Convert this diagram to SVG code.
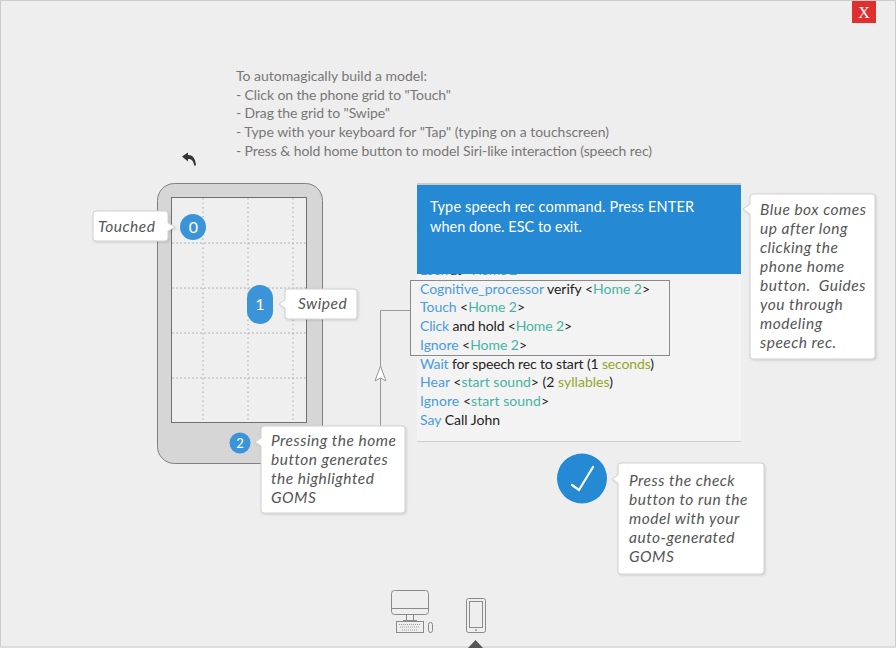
<svg xmlns="http://www.w3.org/2000/svg" width="896" height="648" viewBox="0 0 896 648">
<style>
text{font-family:Lato,"Open Sans",sans-serif}
.ins{font-size:14px;fill:#777}
.goms{font-size:14px;fill:#222}
.op{fill:#4a9bdc}.tl{fill:#45b3a3}.ol{fill:#93a62a}
.tip{fill:#fff;stroke:#d0d0d0;stroke-width:1;filter:url(#sh)}
.say{font-size:15.500px;font-style:italic;fill:#555;letter-spacing:.5px}
.dot{stroke:#aaa;stroke-width:1;stroke-dasharray:1.500 3;fill:none}
.dash{stroke:#b0b0b0;stroke-width:1;stroke-dasharray:2 2;fill:none}
.num{font-size:16px;fill:#fff;text-anchor:middle}
.ic{fill:none;stroke:#8a8a8a;stroke-width:1}
</style>
<defs><filter id="sh" x="-10%" y="-10%" width="120%" height="120%"><feDropShadow dx="1" dy="1" stdDeviation="1" flood-color="#000" flood-opacity=".15"/></filter></defs>
<rect x="0" y="0" width="896" height="648" fill="#eee"/>
<path d="M.5 648V.5H895.500V648" fill="none" stroke="#ccc"/>
<rect x="0" y="646" width="896" height="2" fill="#ddd"/>
<g id="close"><rect x="852" y="1" width="24" height="22" fill="#df3030"/><text x="864" y="18" font-size="16" fill="#fff" text-anchor="middle" style="font-family:'Liberation Serif',serif">X</text></g>
<g id="instructions">
<text class="ins" x="236" y="81" textLength="191">To automagically build a model:</text>
<text class="ins" x="236" y="100" textLength="215">- Click on the phone grid to "Touch"</text>
<text class="ins" x="236" y="118" textLength="154">- Drag the grid to "Swipe"</text>
<text class="ins" x="236" y="137" textLength="373">- Type with your keyboard for "Tap" (typing on a touchscreen)</text>
<text class="ins" x="236" y="156" textLength="416">- Press &amp; hold home button to model Siri-like interaction (speech rec)</text>
</g>
<g id="undo"><path d="M182 156.500L188 152.500V155C192.500 155 195.500 158 196 165.500H194.200C193.500 160.500 191.500 159 188 159V161.500Z" fill="#333"/></g>
<g id="phone">
<rect x="157.500" y="183.500" width="165" height="280" rx="17" fill="#d6d6d6" stroke="#808080"/>
<rect x="171.500" y="197.500" width="135" height="225" fill="#efefef" stroke="#707070"/>
<path class="dash" d="M172 243H306M172 288H306M172 333H306M172 378H306"/>
<path class="dot" d="M203 198V422M248 198V422M293 198V422"/>
</g>
<g id="goms">
<rect x="417" y="184" width="324" height="257" fill="#f3f3f3"/>
<path d="M417 441.500H741" stroke="#ccc"/>
<text class="goms" x="420" y="275" textLength="105"><tspan class="op">Look</tspan> at &lt;<tspan class="tl">Home 2</tspan>&gt;</text>
<text class="goms" x="420" y="369" textLength="234"><tspan class="op">Wait</tspan> for speech rec to start (1 <tspan class="ol">seconds</tspan>)</text>
<text class="goms" x="420" y="387" textLength="193"><tspan class="op">Hear</tspan> &lt;<tspan class="tl">start sound</tspan>&gt; (2 <tspan class="ol">syllables</tspan>)</text>
<text class="goms" x="420" y="406" textLength="129"><tspan class="op">Ignore</tspan> &lt;<tspan class="tl">start sound</tspan>&gt;</text>
<text class="goms" x="420" y="425" textLength="80"><tspan class="op">Say</tspan> Call John</text>
</g>
<g id="highlight">
<rect x="410.500" y="280.500" width="259" height="75" fill="#f3f3f3" stroke="#8a8a8a"/>
<text class="goms" x="420" y="294" textLength="230"><tspan class="op">Cognitive_processor</tspan> verify &lt;<tspan class="tl">Home 2</tspan>&gt;</text>
<text class="goms" x="420" y="312" textLength="105"><tspan class="op">Touch</tspan> &lt;<tspan class="tl">Home 2</tspan>&gt;</text>
<text class="goms" x="420" y="331" textLength="152"><tspan class="op">Click</tspan> and hold &lt;<tspan class="tl">Home 2</tspan>&gt;</text>
<text class="goms" x="420" y="350" textLength="107"><tspan class="op">Ignore</tspan> &lt;<tspan class="tl">Home 2</tspan>&gt;</text>
</g>
<g id="connectors">
<path d="M410 310.500H380.500V426" fill="none" stroke="#999"/>
<path d="M380.500 366L386 381L380.500 378L375 381Z" fill="#fff" stroke="#999"/>
</g>
<g id="blue-box">
<rect x="417" y="183" width="324" height="2" fill="#ccc"/>
<rect x="417" y="185" width="324" height="89" fill="#2589d4"/>
<text x="430" y="212" font-size="14.500" fill="#fff" textLength="264">Type speech rec command. Press ENTER</text>
<text x="430" y="232" font-size="14.500" fill="#fff" textLength="152">when done. ESC to exit.</text>
</g>
<g id="touch-0"><circle cx="193" cy="227" r="13" fill="#3c94d8"/><text class="num" x="193.500" y="232.500">0</text></g>
<g id="swipe-1"><rect x="247" y="285" width="26" height="39" rx="13" fill="#3c94d8"/><text class="num" x="260" y="309.500">1</text></g>
<g id="home-2"><circle cx="240" cy="443" r="10.500" fill="#3c94d8"/><text x="240" y="448" font-size="13" fill="#fff" text-anchor="middle">2</text></g>
<g id="tip-touched"><path class="tip" d="M96 211H165a3 3 0 0 1 3 3V223L175 227L168 231V238a3 3 0 0 1 -3 3H96a3 3 0 0 1 -3 -3V214a3 3 0 0 1 3 -3Z"/><text class="say" x="98" y="232">Touched</text></g>
<g id="tip-swiped"><path class="tip" d="M288 289H354a3 3 0 0 1 3 3V316a3 3 0 0 1 -3 3H288a3 3 0 0 1 -3 -3V308L279 304L285 300V292a3 3 0 0 1 3 -3Z"/><text class="say" x="298" y="309">Swiped</text></g>
<g id="tip-home"><path class="tip" d="M264 426H402a3 3 0 0 1 3 3V510a3 3 0 0 1 -3 3H264a3 3 0 0 1 -3 -3V446L255 442L261 438V429a3 3 0 0 1 3 -3Z"/>
<text class="say" x="271" y="446">Pressing the home</text><text class="say" x="271" y="465">button generates</text><text class="say" x="271" y="484">the highlighted</text><text class="say" x="271" y="503">GOMS</text></g>
<g id="tip-blue"><path class="tip" d="M753 194H872a3 3 0 0 1 3 3V356a3 3 0 0 1 -3 3H753a3 3 0 0 1 -3 -3V214L743 209L750 204V197a3 3 0 0 1 3 -3Z"/>
<text class="say" x="760" y="215">Blue box comes</text><text class="say" x="760" y="234">up after long</text><text class="say" x="760" y="253">clicking the</text><text class="say" x="760" y="272">phone home</text><text class="say" x="760" y="291" xml:space="preserve">button.  Guides</text><text class="say" x="760" y="310">you through</text><text class="say" x="760" y="329">modeling</text><text class="say" x="760" y="348">speech rec.</text></g>
<g id="check"><circle cx="582" cy="478.500" r="25" fill="#2589d4"/><path d="M572 485L579 490L593 467" fill="none" stroke="#fff" stroke-width="2.200" stroke-linecap="round"/></g>
<g id="tip-check"><path class="tip" d="M621 463H761a3 3 0 0 1 3 3V571a3 3 0 0 1 -3 3H621a3 3 0 0 1 -3 -3V483L612 479L618 475V466a3 3 0 0 1 3 -3Z"/>
<text class="say" x="629" y="486">Press the check</text><text class="say" x="629" y="505">button to run the</text><text class="say" x="629" y="524">model with your</text><text class="say" x="629" y="543">auto-generated</text><text class="say" x="629" y="562">GOMS</text></g>
<g id="desktop-icon"><rect class="ic" x="391.500" y="590.500" width="37" height="24" rx="3"/><path class="ic" d="M392 608.500H428M406.500 615V620M413.500 615V620M403 620.500H417"/><rect class="ic" x="396.500" y="621.500" width="27" height="11"/><path d="M399 624.500H421M400 627H420M402 630H418" stroke="#999" stroke-dasharray="1 1"/><rect class="ic" x="428.500" y="622.500" width="4" height="10" rx="2"/></g>
<g id="phone-icon"><rect class="ic" x="466.500" y="598.500" width="19" height="34" rx="2"/><rect class="ic" x="469.500" y="601.500" width="13" height="26"/><circle cx="476" cy="630" r="1" fill="#999"/></g>
<path id="tab" d="M468 648L475.500 640L483 648Z" fill="#555"/>
</svg>
